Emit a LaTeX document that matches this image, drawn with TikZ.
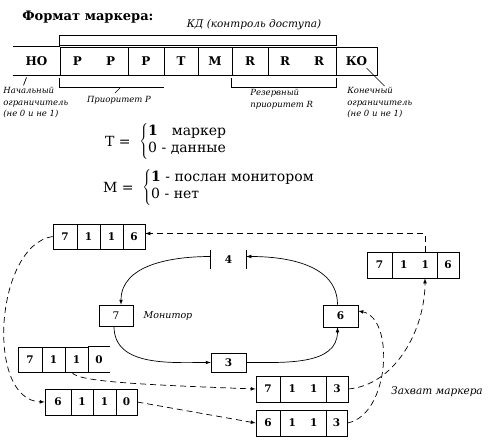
\documentclass[tikz,border=0pt]{standalone}
\usepackage{fontspec}
\setmainfont{DejaVu Serif}
\usetikzlibrary{positioning}
\newcommand{\numfont}{\fontsize{10.5}{12}\selectfont\bfseries}
\newcommand{\fldfont}{\fontsize{12}{14}\selectfont\bfseries}
\newcommand{\lblfont}{\fontsize{8.5}{11.5}\selectfont\itshape}

\begin{document}
\begin{tikzpicture}[x=1pt,y=-1pt,>=latex,
                line width=0.7pt,
                cell/.style n args={2}{draw,rectangle,inner sep=0pt,
                    minimum width=#1pt,minimum height=#2pt,font=\numfont},
                fld/.style={cell={#1}{28},font=\fldfont},
                lbl/.style={font=\lblfont,align=left,inner sep=0pt},
                eqn/.style={font=\fontsize{14}{17}\selectfont,inner sep=0pt},
                link/.style={dash pattern=on 6pt off 4pt,->}]
                \useasboundingbox (0,0) rectangle (490,444);
                % marker format
                \node[anchor=west,inner sep=0pt,font=\fontsize{13}{14}\selectfont\bfseries] (title) at (22,17) {Формат маркера:};
                \node[font=\fontsize{10.5}{12}\selectfont\itshape] (kd) at (254,25) {КД (контроль доступа)};
                \node[fld=47,draw=none] (ho) at (36.5,61) {НО};
                \node[fld=68] (pp) at (94,61) {P\hspace{24pt}P};
                \node[fld=36] (p3) at (146,61) {P};
                \node[fld=34] (t) at (181,61) {T};
                \node[fld=34] (m) at (215,61) {M};
                \node[fld=36] (r1) at (250,61) {R};
                \node[fld=68] (rr) at (302,61) {R\hspace{24pt}R};
                \node[fld=41] (ko) at (356.5,61) {КО};
                \draw (ho.north west) -- (pp.north west) (ho.south west) -- (pp.south west);
                \draw ([yshift=1pt]pp.north west) rectangle ([yshift=11pt]rr.north east);
                \draw ([yshift=-3pt]pp.south west) |- ([yshift=-12pt]p3.south east);
                \draw ([yshift=-3pt]r1.south west) -- ([yshift=-12pt]r1.south west)
                    -- ([yshift=-12pt]rr.south east) -- ([yshift=-3pt]rr.south east);
                \node[lbl,anchor=north west] (holbl) at (3,87) {Начальный\\ограничитель\\(не 0 и не 1)};
                \draw ([shift={(-10pt,-2pt)}]ho.south) -- ++(-3,8);
                \node[lbl] (plbl) at (119,100) {Приоритет P};
                \draw (120,88) -- (115,93);
                \node[lbl,anchor=north west] (rlbl) at (250,89) {Резервный\\приоритет R};
                \node[lbl,anchor=north west] (kolbl) at (347,87) {Конечный\\ограничитель\\(не 0 и не 1)};
                \draw ([shift={(10pt,-7pt)}]ko.center) -- ++(18,18);
                % T and M bits
                \node[eqn,anchor=east] (teq) at (131,141) {T =};
                \node[eqn,anchor=west] (tval) at (139,141)
                    {$\left\{\begin{tabular}{@{}l@{}}\textbf{1}\quad маркер\\0 - данные\end{tabular}\right.$};
                \node[eqn,anchor=east] (meq) at (134,187) {M =};
                \node[eqn,anchor=west] (mval) at (142,187)
                    {$\left\{\begin{tabular}{@{}l@{}}\textbf{1} - послан монитором\\0 - нет\end{tabular}\right.$};
                % ring
                \node[cell={35}{19},draw=none] (four) at (228.5,259.5) {4};
                \draw (four.north west) -- (four.south west) (four.north east) -- (four.south east);
                \node[cell={34}{21},font=\numfont\mdseries] (seven) at (116,315.5) {7};
                \node[cell={35}{22}] (six) at (340.5,316) {6};
                \node[cell={35}{19}] (three) at (228.5,362.5) {3};
                \node[font=\fontsize{9.5}{12}\selectfont\itshape] (mon) at (168,316) {Монитор};
                \draw[->] ([yshift=3pt]four.west) to[out=180,in=90] ([xshift=5pt]seven.north);
                \draw[->] ([xshift=-2pt]seven.south) to[out=270,in=180] (three.west);
                \draw[->] (three.east) to[out=0,in=270] ([xshift=-3pt]six.south);
                \draw[->] ([xshift=-3pt]six.north) to[out=90,in=0] ([yshift=3pt]four.east);
                % frames
                \node[cell={24}{25}] (a1) at (65,236.5) {7};
                \node[cell={23}{25}] (a2) at (88.5,236.5) {1};
                \node[cell={23}{25}] (a3) at (111.5,236.5) {1};
                \node[cell={22}{25}] (a4) at (134,236.5) {6};
                \node[cell={25}{26}] (b1) at (379.5,265) {7};
                \node[cell={45}{26}] (bm) at (414.5,265) {1\hspace{14pt}1};
                \node[cell={22}{26}] (b3) at (448,265) {6};
                \node[cell={24}{25}] (c1) at (30,359.5) {7};
                \node[cell={23}{25}] (c2) at (53.5,359.5) {1};
                \node[cell={23}{25}] (c3) at (76.5,359.5) {1};
                \node[cell={22}{25},draw=none] (c4) at (99,359.5) {0};
                \draw (c4.north west) -- (c4.north east) (c4.south west) -- (c4.south east);
                \node[cell={26}{26}] (d1) at (58,402) {6};
                \node[cell={22}{26}] (d2) at (82,402) {1};
                \node[cell={23}{26}] (d3) at (104.5,402) {1};
                \node[cell={21}{26}] (d4) at (126.5,402) {0};
                \node[cell={24}{26}] (e1) at (268,389) {7};
                \node[cell={46}{26}] (em) at (303,389) {1\hspace{14pt}1};
                \node[cell={22}{26}] (e3) at (337,389) {3};
                \node[cell={24}{26}] (f1) at (268,423) {6};
                \node[cell={46}{26}] (fm) at (303,423) {1\hspace{14pt}1};
                \node[cell={21}{26}] (f3) at (336.5,423) {3};
                \node[font=\fontsize{10.5}{12}\selectfont\itshape] (cap) at (437,392) {Захват маркера};
                % dashed transfers
                \draw[link] ([xshift=10.5pt]bm.north) |- ([yshift=3pt]a4.east);
                \draw[link] (a1.west) .. controls (-5,245) and (-15,400) .. (d1.west);
                \draw[link] ([xshift=-4.5pt]c3.south) .. controls (76,382) and (150,385) .. (e1.west);
                \draw[link] (d4.east) -- (f1.west);
                \draw[link] (e3.east) .. controls (395,385) and (425,330) .. ([xshift=10.5pt]bm.south);
                \draw[link] (f3.east) .. controls (390,415) and (395,318) .. ([yshift=5pt]six.east);
            \end{tikzpicture}
\end{document}
